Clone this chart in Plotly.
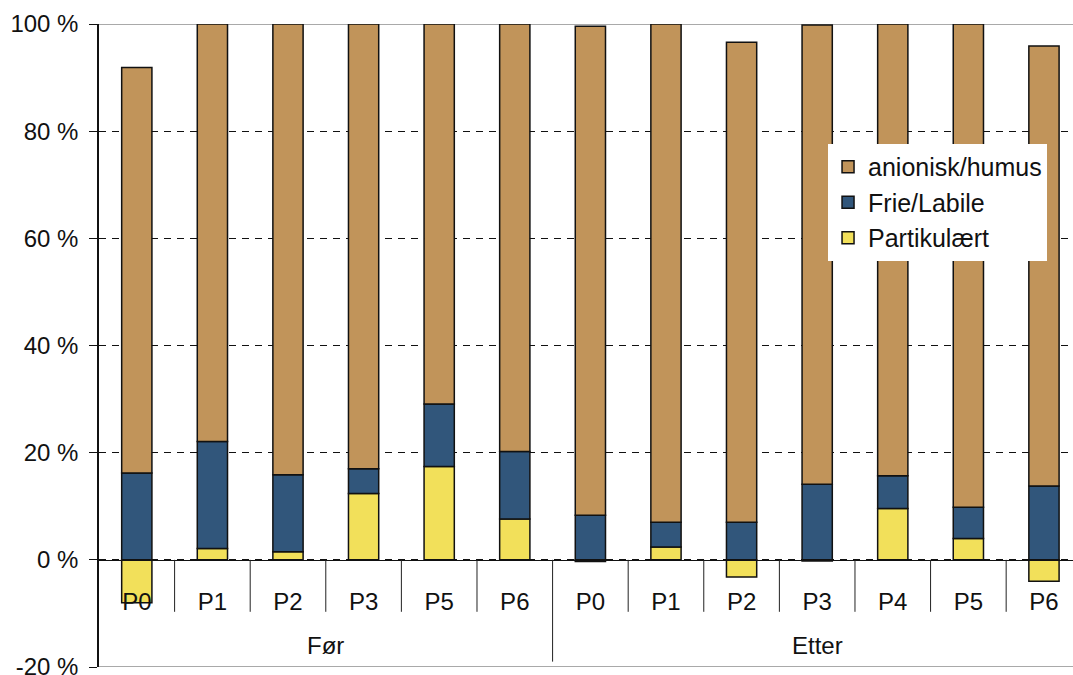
import plotly.graph_objects as go

# Sample points, grouped by period
groups = ["Før"] * 6 + ["Etter"] * 7
stations = ["P0", "P1", "P2", "P3", "P5", "P6",
            "P0", "P1", "P2", "P3", "P4", "P5", "P6"]

# Fraction shares (%)
partikulaert = [-8.0, 2.1, 1.5, 12.4, 17.4, 7.6,
                -0.3, 2.4, -3.2, -0.2, 9.6, 4.0, -4.0]
frie_labile = [16.2, 20.0, 14.4, 4.6, 11.7, 12.6,
               8.3, 4.6, 7.0, 14.1, 6.1, 5.8, 13.8]
anionisk_humus = [75.7, 77.9, 84.1, 83.0, 70.9, 79.8,
                  91.3, 93.0, 89.6, 85.7, 84.3, 90.2, 82.1]

y_ticks = [-20, 0, 20, 40, 60, 80, 100]
y_tick_labels = [f"{v} %" for v in y_ticks]

FONT = "Liberation Sans, Arial, sans-serif"
x = list(range(len(stations)))

fig = go.Figure()
series = [
    ("Partikulært", partikulaert, "#F2E05A"),
    ("Frie/Labile", frie_labile, "#31567B"),
    ("anionisk/humus", anionisk_humus, "#C1945A"),
]
for name, vals, color in series:
    fig.add_trace(go.Bar(
        x=x, y=vals, name=name, width=0.4,
        marker=dict(color=color, line=dict(color="#111111", width=1.5)),
    ))

# Separator lines between stations and between periods, below the zero line
shapes = []
for i in range(len(stations) - 1):
    if groups[i] != groups[i + 1]:
        y_end = -19.0
    else:
        y_end = -9.7
    shapes.append(dict(type="line", xref="x", yref="y",
                       x0=i + 0.5, x1=i + 0.5, y0=0, y1=y_end,
                       line=dict(color="#222222", width=1)))
# Top and bottom frame lines
for yv in (y_ticks[0], y_ticks[-1]):
    shapes.append(dict(type="line", xref="paper", yref="y",
                       x0=0, x1=1, y0=yv, y1=yv, layer="below",
                       line=dict(color="#8c8c8c", width=1.5)))

# Period labels centred under their stations
annotations = []
seen = []
for g in groups:
    if g not in seen:
        seen.append(g)
for g in seen:
    idx = [i for i, gg in enumerate(groups) if gg == g]
    annotations.append(dict(x=sum(idx) / len(idx), y=-16, xref="x", yref="y",
                            text=g, showarrow=False, yanchor="middle",
                            font=dict(family=FONT, size=24, color="#111111")))

fig.update_layout(
    width=1073, height=675,
    margin=dict(l=99, r=0, t=24, b=8, autoexpand=False),
    paper_bgcolor="white", plot_bgcolor="white",
    barmode="relative",
    font=dict(family=FONT, size=24, color="#111111"),
    shapes=shapes, annotations=annotations,
    showlegend=True,
    legend=dict(x=0.7485, y=0.8134, xanchor="left", yanchor="top",
                traceorder="reversed", bgcolor="white", borderwidth=0,
                font=dict(family=FONT, size=25, color="#111111"),
                itemwidth=30),
    xaxis=dict(
        range=[-0.5, 12.384], tickvals=x, ticktext=stations,
        anchor="free", position=(0 - y_ticks[0]) / (y_ticks[-1] - y_ticks[0]),
        showline=True, linecolor="#111111", linewidth=1,
        ticks="outside", ticklen=20, tickcolor="rgba(0,0,0,0)",
        showgrid=False, zeroline=False, fixedrange=True, automargin=False,
        tickfont=dict(family=FONT, size=24, color="#111111"),
    ),
    yaxis=dict(
        range=[y_ticks[0], y_ticks[-1]], tickmode="array",
        tickvals=y_ticks, ticktext=y_tick_labels, ticklabeloverflow="allow",
        ticklabelstandoff=6,
        showline=True, linecolor="#111111", linewidth=1.5,
        ticks="outside", ticklen=8, tickcolor="#111111",
        showgrid=True, gridcolor="#111111", gridwidth=1, griddash="7px,6px",
        zeroline=False, automargin=False,
        tickfont=dict(family=FONT, size=24, color="#111111"),
    ),
)

fig.write_html("out.html")
